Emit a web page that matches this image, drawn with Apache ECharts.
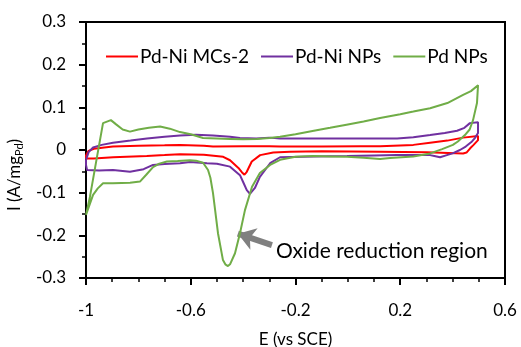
<!DOCTYPE html>
<html><head><meta charset="utf-8">
<script src="https://cdn.jsdelivr.net/npm/echarts@6/dist/echarts.min.js"></script>
<style>html,body{margin:0;padding:0;background:#fff}#c{width:521px;height:347px}</style>
</head><body><div id="c"></div>
<script>
var seriesNames = ['Pd-Ni MCs-2', 'Pd-Ni NPs', 'Pd NPs'];
var seriesColors = ['#FF0000', '#7030A0', '#70AD47'];
var xTicks = [-1, -0.6, -0.2, 0.2, 0.6];
var yTicks = [-0.3, -0.2, -0.1, 0, 0.1, 0.2, 0.3];

var pdNiMCs2 = [[-1,-0.012],[-0.99,-0.002],[-0.97,0.003],[-0.93,0.006],[-0.897,0.008],[-0.8,0.01],[-0.7,0.011],[-0.641,0.012],[-0.55,0.01],[-0.515,0.008],[-0.4,0.009],[-0.3,0.009],[-0.259,0.008],[-0.1,0.008],[0.05,0.009],[0.123,0.009],[0.25,0.012],[0.314,0.017],[0.38,0.022],[0.44,0.029],[0.497,0.033],
[0.497,0.023],[0.48,0.012],[0.467,0.004],[0.453,-0.006],[0.44,-0.008],[0.3,-0.005],[0.123,-0.004],[-0.1,-0.003],[-0.221,-0.004],[-0.285,-0.006],[-0.335,-0.012],[-0.367,-0.027],[-0.386,-0.051],[-0.395,-0.058],[-0.405,-0.052],[-0.418,-0.042],[-0.45,-0.024],[-0.476,-0.016],[-0.55,-0.011],[-0.641,-0.01],[-0.7,-0.012],[-0.768,-0.014],[-0.896,-0.017],[-0.97,-0.02],[-1,-0.02],[-1,-0.012]];

var pdNiNPs = [[-1,-0.023],[-0.99,-0.005],[-0.973,0.006],[-0.94,0.012],[-0.897,0.017],[-0.83,0.022],[-0.767,0.027],[-0.7,0.031],[-0.641,0.034],[-0.58,0.036],[-0.515,0.034],[-0.45,0.031],[-0.412,0.028],[-0.35,0.027],[-0.3,0.029],[-0.259,0.027],[-0.1,0.027],[0.05,0.027],[0.188,0.027],[0.25,0.03],[0.314,0.035],[0.37,0.04],[0.417,0.045],[0.445,0.052],[0.466,0.063],[0.497,0.065],
[0.497,0.04],[0.485,0.028],[0.474,0.02],[0.45,0.008],[0.428,0],[0.4,-0.008],[0.378,-0.012],[0.352,-0.017],[0.33,-0.014],[0.314,-0.012],[0.188,-0.012],[0.1,-0.013],[-0.003,-0.014],[-0.13,-0.015],[-0.259,-0.017],[-0.297,-0.031],[-0.336,-0.063],[-0.355,-0.089],[-0.374,-0.103],[-0.386,-0.094],[-0.4,-0.075],[-0.412,-0.059],[-0.45,-0.039],[-0.5,-0.032],[-0.538,-0.031],[-0.603,-0.028],[-0.641,-0.031],[-0.7,-0.033],[-0.744,-0.035],[-0.78,-0.045],[-0.832,-0.051],[-0.897,-0.047],[-0.95,-0.048],[-0.996,-0.047],[-1,-0.035],[-1,-0.023]];

var pdNPs = [[-1,-0.152],[-0.985,-0.11],[-0.958,-0.016],[-0.935,0.063],[-0.905,0.07],[-0.885,0.06],[-0.86,0.048],[-0.832,0.043],[-0.8,0.048],[-0.76,0.052],[-0.717,0.055],[-0.68,0.05],[-0.641,0.042],[-0.6,0.037],[-0.553,0.028],[-0.5,0.027],[-0.45,0.026],[-0.4,0.025],[-0.347,0.026],[-0.3,0.028],[-0.259,0.031],[-0.2,0.037],[-0.13,0.045],[-0.068,0.052],[0,0.06],[0.06,0.067],[0.123,0.075],[0.2,0.084],[0.25,0.09],[0.314,0.098],[0.38,0.11],[0.44,0.129],[0.47,0.138],[0.497,0.152],
[0.493,0.11],[0.478,0.07],[0.465,0.048],[0.447,0.035],[0.42,0.02],[0.401,0.012],[0.36,0.002],[0.314,-0.008],[0.25,-0.015],[0.161,-0.019],[0.123,-0.021],[0.06,-0.018],[-0.003,-0.016],[-0.07,-0.015],[-0.133,-0.014],[-0.2,-0.016],[-0.259,-0.023],[-0.297,-0.035],[-0.336,-0.054],[-0.366,-0.086],[-0.393,-0.141],[-0.412,-0.195],[-0.431,-0.242],[-0.45,-0.268],[-0.458,-0.272],[-0.468,-0.268],[-0.477,-0.258],[-0.496,-0.195],[-0.515,-0.101],[-0.525,-0.065],[-0.534,-0.047],[-0.553,-0.030],[-0.58,-0.025],[-0.603,-0.024],[-0.65,-0.026],[-0.691,-0.027],[-0.72,-0.032],[-0.744,-0.04],[-0.77,-0.058],[-0.794,-0.074],[-0.832,-0.077],[-0.897,-0.078],[-0.935,-0.078],[-0.955,-0.09],[-0.973,-0.105],[-0.996,-0.145],[-1,-0.152]];

var annotationText = 'Oxide reduction region';
var annotationAt = [-0.29, -0.238];
var arrowFrom = [-0.29, -0.223];
var arrowTo = [-0.42, -0.196];

var FONT = 'Lato';
var chart = echarts.init(document.getElementById('c'), null, {renderer: 'canvas'});
var allData = [pdNiMCs2, pdNiNPs, pdNPs];
var series = allData.map(function (d, i) {
  return {
    name: seriesNames[i], type: 'line', data: d, showSymbol: false, symbol: 'none',
    lineStyle: {color: seriesColors[i], width: 2}, itemStyle: {color: seriesColors[i]},
    animation: false, z: 3 + i
  };
});
series[2].markLine = {
  silent: true, animation: false,
  symbol: ['none', 'arrow'], symbolSize: 17,
  lineStyle: {color: '#808080', width: 6, type: 'solid'},
  itemStyle: {color: '#808080'},
  label: {show: false},
  data: [[{coord: arrowFrom}, {coord: arrowTo}]]
};
series[2].markPoint = {
  silent: true, animation: false, symbol: 'circle', symbolSize: 0,
  itemStyle: {color: 'rgba(0,0,0,0)'},
  label: {show: true, position: 'right', formatter: annotationText, fontFamily: FONT, fontSize: 21, color: '#000', distance: 4},
  data: [{coord: annotationAt}]
};

chart.setOption({
  animation: false,
  textStyle: {fontFamily: FONT},
  grid: {left: 86, right: 16, top: 22, bottom: 69, show: true, borderColor: '#000', borderWidth: 2, outerBoundsMode: 'none', containLabel: false},
  legend: {
    data: seriesNames, top: 42, left: 101, itemWidth: 32, itemHeight: 2, itemGap: 12,
    icon: 'rect', textStyle: {fontFamily: FONT, fontSize: 19, color: '#000', padding: [0, 0, 0, -3]}
  },
  xAxis: {
    type: 'value', min: -1, max: 0.6, interval: 0.4,
    name: 'E (vs SCE)', nameLocation: 'middle', nameGap: 53,
    nameTextStyle: {fontFamily: FONT, fontSize: 17, color: '#000'},
    axisLine: {onZero: false, lineStyle: {color: '#000', width: 2}},
    axisTick: {show: true, length: 7, lineStyle: {color: '#000', width: 2}},
    minorTick: {show: true, splitNumber: 4, length: 4, lineStyle: {color: '#000', width: 1.5}},
    splitLine: {show: false},
    axisLabel: {color: '#000', fontSize: 17, fontFamily: FONT, margin: 24,
      formatter: function (v) { return String(Math.round(v * 10) / 10); }}
  },
  yAxis: {
    type: 'value', min: -0.3, max: 0.3, interval: 0.1,
    name: '{a|I (A/mg}{b|Pd}{a|)}', nameLocation: 'middle', nameGap: 57,
    nameTextStyle: {fontFamily: FONT, color: '#000', padding: [0, 50, 0, 0],
      rich: {a: {fontSize: 17, fontFamily: FONT, color: '#000', lineHeight: 22},
             b: {fontSize: 11, fontFamily: FONT, color: '#000', lineHeight: 22, verticalAlign: 'bottom', padding: [8, 0, 0, 0]}}},
    axisLine: {onZero: false, lineStyle: {color: '#000', width: 2}},
    axisTick: {show: true, length: 7, lineStyle: {color: '#000', width: 2}},
    minorTick: {show: true, splitNumber: 2, length: 4, lineStyle: {color: '#000', width: 1.5}},
    splitLine: {show: false},
    axisLabel: {color: '#000', fontSize: 17, fontFamily: FONT, margin: 20,
      formatter: function (v) { return String(Math.round(v * 10) / 10); }}
  },
  series: series
});
</script></body></html>
